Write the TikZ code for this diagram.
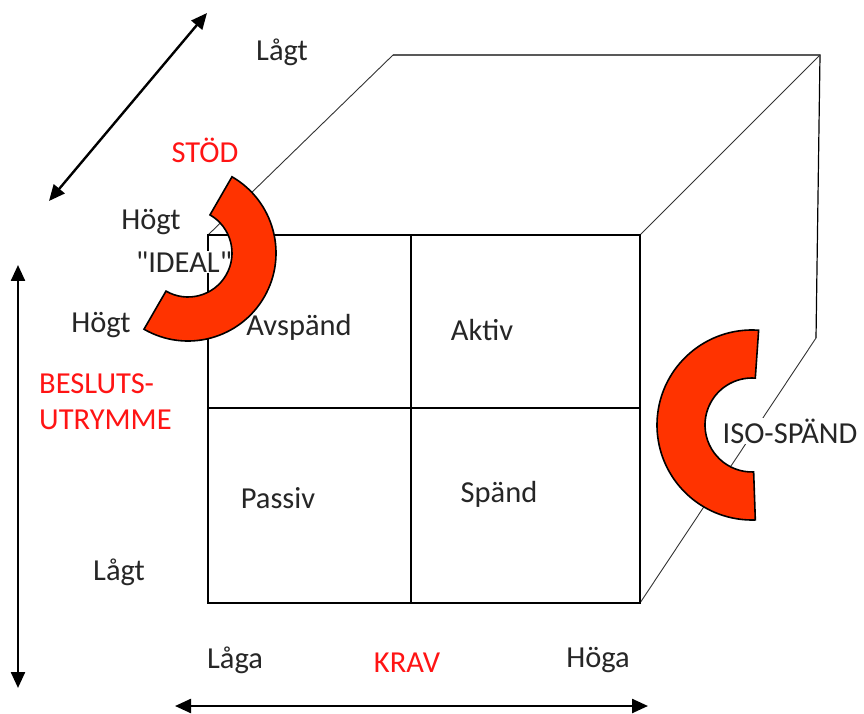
\documentclass[tikz,border=0pt]{standalone}
\usepackage{fontspec}
\setmainfont{Carlito}[Ligatures=TeXOff]
\usetikzlibrary{arrows.meta,calc}
\definecolor{ringred}{RGB}{255,51,0}
\definecolor{labred}{RGB}{255,20,20}
\tikzset{
  edge/.style={line width=1.2pt,draw=black},
  thinedge/.style={line width=0.9pt,draw=black!80},
  ring/.style={fill=ringred,draw=black,line width=1.6pt},
  dblarrow/.style={line width=2.4pt,{Triangle[length=16pt,width=14pt]}-{Triangle[length=16pt,width=14pt]}},
  lab/.style={font=\fontsize{30.5}{34}\selectfont,text=black!85,inner sep=1pt},
  redlab/.style={lab,text=labred}
}
\begin{document}
\begin{tikzpicture}[x=1pt,y=1pt]
\useasboundingbox (0,0) rectangle (864,713);
% cube corners
\coordinate (ftl) at (208,478);
\coordinate (ftr) at (640,478);
\coordinate (fbr) at (640,110);
\coordinate (fbl) at (208,110);
\coordinate (btl) at (393,658);
\coordinate (btr) at (820,658);
\coordinate (bbr) at (816,375);
\coordinate (mt) at (411,478);
\coordinate (mb) at (411,110);
\coordinate (ml) at (208,305);
\coordinate (mr) at (640,305);
% back edges
\draw[thinedge] (ftl) -- (btl);
\draw[edge] (btl) -- (btr) -- (bbr);
\draw[thinedge] (ftr) -- (btr);
\draw[thinedge] (fbr) -- (bbr);
% front face
\draw[edge] (ftl) -- (ftr) -- (fbr) -- (fbl) -- cycle;
\draw[edge] (mt) -- (mb);
\draw[edge] (ml) -- (mr);
% labels with white backs
\node[lab,fill=white] (ideal) at (184,451) {"IDEAL"};
\node[lab,fill=white] (iso) at (790,282) {ISO-SPÄND};
% rings
\coordinate (c1) at (188,460);
\draw[ring] ($(c1)+(60:88)$) arc[start angle=60,end angle=-120,radius=88]
  -- ($(c1)+(-120:44)$) arc[start angle=-120,end angle=60,radius=44] -- cycle;
\coordinate (c2) at (752,288);
\draw[ring] ($(c2)+(86:95)$) arc[start angle=86,end angle=272,radius=95]
  -- ($(c2)+(272:47)$) arc[start angle=272,end angle=86,radius=47] -- cycle;
% arrows
\coordinate (a1s) at (49,512);
\coordinate (a1e) at (207,700);
\draw[dblarrow] (a1s) -- (a1e);
\coordinate (a2s) at (18,448);
\coordinate (a2e) at (18,25);
\draw[dblarrow] (a2s) -- (a2e);
\coordinate (a3s) at (175,7);
\coordinate (a3e) at (648,7);
\draw[dblarrow] (a3s) -- (a3e);
% labels
\node[lab] (lagttop) at (282,661) {Lågt};
\node[redlab] (stod) at (205,563) {STÖD};
\node[lab] (hogt1) at (151,491) {Högt};
\node[lab] (hogt2) at (101,388) {Högt};
\node[redlab,anchor=west] (beslut) at (38,329) {BESLUTS-};
\node[redlab,anchor=west] (utrymme) at (38,293) {UTRYMME};
\node[lab] (avspand) at (299,386) {Avspänd};
\node[lab] (aktiv) at (482,383) {Aktiv};
\node[lab] (passiv) at (278,215) {Passiv};
\node[lab] (spand) at (499,219) {Spänd};
\node[lab] (lagtbot) at (119,141) {Lågt};
\node[lab] (laga) at (235,53) {Låga};
\node[redlab] (krav) at (407,50) {KRAV};
\node[lab] (hoga) at (598,53) {Höga};
\end{tikzpicture}
\end{document}
